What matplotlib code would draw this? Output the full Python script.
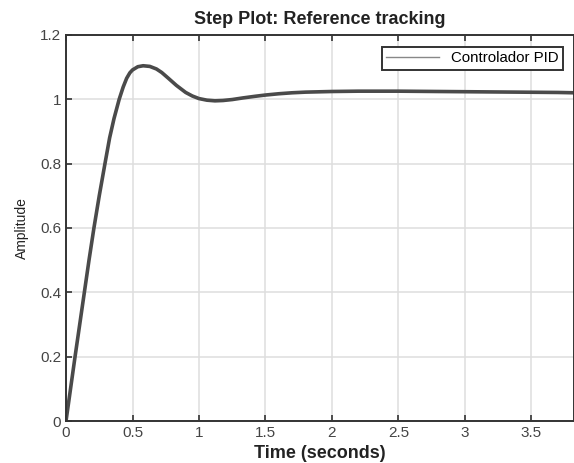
import matplotlib
matplotlib.use("Agg")
import matplotlib.pyplot as plt

# respuesta al escalon
t = [0, 0.068, 0.138, 0.173, 0.21, 0.25, 0.293, 0.328, 0.361, 0.40, 0.43,
     0.456, 0.48, 0.50, 0.54, 0.58, 0.63, 0.68, 0.72, 0.77, 0.83, 0.90,
     0.95, 1.00, 1.06, 1.12, 1.18, 1.25, 1.33, 1.42, 1.50, 1.60, 1.70, 1.80,
     2.00, 2.20, 2.50, 2.80, 3.10, 3.40, 3.70, 3.82]
y = [0, 0.20, 0.40, 0.50, 0.60, 0.70, 0.80, 0.88, 0.94, 1.0, 1.038,
     1.065, 1.082, 1.091, 1.101, 1.104, 1.102, 1.094, 1.083, 1.065, 1.043,
     1.021, 1.010, 1.002, 0.997, 0.995, 0.996, 0.999, 1.004, 1.009, 1.013,
     1.017, 1.020, 1.022, 1.024, 1.025, 1.025, 1.024, 1.023, 1.022, 1.021,
     1.020]
xticks = [0, 0.5, 1, 1.5, 2, 2.5, 3, 3.5]
xticklabels = ["0", "0.5", "1", "1.5", "2", "2.5", "3", "3.5"]
yticks = [0, 0.2, 0.4, 0.6, 0.8, 1.0, 1.2]
yticklabels = ["0", "0.2", "0.4", "0.6", "0.8", "1", "1.2"]

plt.rcParams["font.family"] = ["Liberation Sans", "DejaVu Sans"]

fig = plt.figure(figsize=(5.74, 4.63), dpi=100)
ax = fig.add_axes([0.115, 0.0907, 0.885, 0.834])

ax.plot(t, y, color="#4a4a4a", linewidth=2.6, label="Controlador PID")

ax.set_xlim(0, 3.82)
ax.set_ylim(0, 1.2)
ax.set_xticks(xticks)
ax.set_xticklabels(xticklabels)
ax.set_yticks(yticks)
ax.set_yticklabels(yticklabels)
ax.grid(True, color="#dedede", linewidth=1.1)
ax.set_axisbelow(True)
ax.tick_params(direction="in", top=True, length=4, width=1.2,
               color="#333333", labelcolor="#444444", labelsize=11)
for s in ax.spines.values():
    s.set_color("#333333")
    s.set_linewidth(1.4)

ax.set_title("Step Plot: Reference tracking", fontsize=13,
             fontweight="bold", color="#222222", pad=8)
ax.set_xlabel("Time (seconds)", fontsize=13, fontweight="bold",
              color="#222222", labelpad=4)
ax.set_ylabel("Amplitude", fontsize=10, color="#222222",
              family=["Liberation Sans Narrow", "Liberation Sans"], labelpad=8)

leg = ax.legend(loc="upper right", bbox_to_anchor=(0.978, 0.969),
                borderaxespad=0, fancybox=False, framealpha=1,
                edgecolor="#333333", fontsize=10.8, handlelength=3.5,
                borderpad=0.3)
leg.get_frame().set_linewidth(1.4)
for ln in leg.get_lines():
    ln.set_linewidth(1.0)
    ln.set_color("#888888")

fig.savefig("out.png", dpi=100)
